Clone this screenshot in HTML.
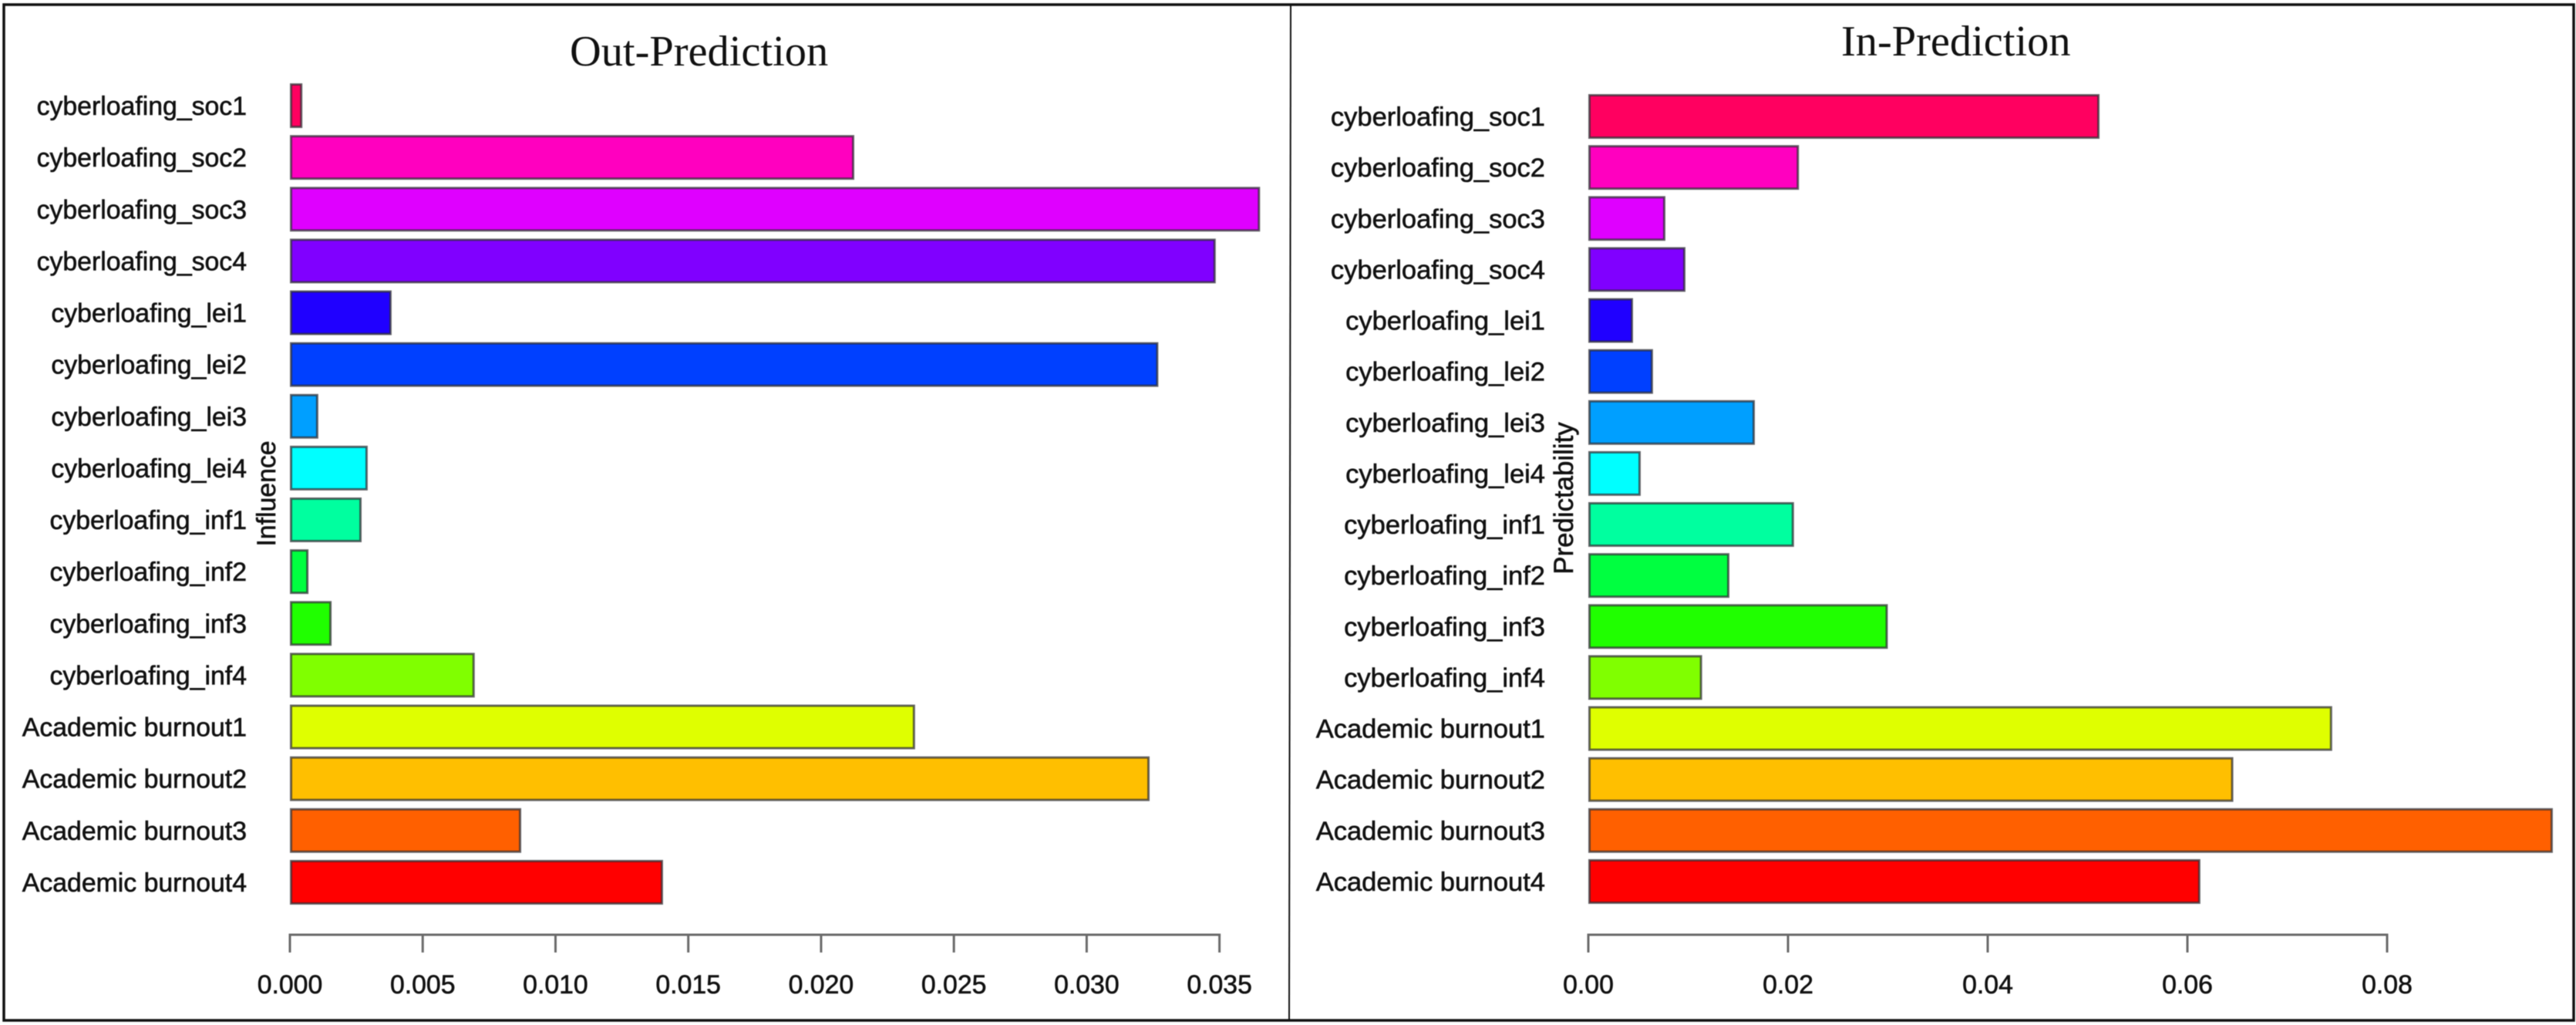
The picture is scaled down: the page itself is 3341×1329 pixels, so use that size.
<!DOCTYPE html>
<html lang="en">
<head>
<meta charset="utf-8">
<title>Out-Prediction and In-Prediction</title>
<style>
  html, body { margin: 0; padding: 0; background: #fff; }
  body { width: 3341px; height: 1329px; overflow: hidden; }
  svg { display: block; filter: blur(0.6px); }
  text { fill: #000; font-family: "Liberation Sans", sans-serif; }
  .title { font-family: "Liberation Serif", serif; font-size: 56.4px; fill: #111; }
  .cat, .tick, .ylab { font-size: 33.8px; fill: #111; stroke: #111; stroke-width: 0.6px; }
</style>
</head>
<body>
<svg id="figure" xmlns="http://www.w3.org/2000/svg" width="3341" height="1329" viewBox="0 0 3341 1329">
  <rect x="0" y="0" width="3341" height="1329" fill="#fff"/>
  <rect x="5" y="6" width="3333" height="1317" fill="none" stroke="#111" stroke-width="3.5"/>
  <line x1="1674" y1="6" x2="1672" y2="1322" stroke="#111" stroke-width="2"/>
  <g id="out-panel">
    <text class="title" x="739" y="85">Out-Prediction</text>
    <text class="ylab" transform="translate(357,640) rotate(-90)" text-anchor="middle">Influence</text>
  </g>
  <g id="in-panel">
    <text class="title" x="2388" y="72">In-Prediction</text>
    <text class="ylab" transform="translate(2040,646) rotate(-90)" text-anchor="middle" style="font-size:34.8px">Predictability</text>
  </g>
</svg>
<script>
const categories = [
  "cyberloafing_soc1", "cyberloafing_soc2", "cyberloafing_soc3", "cyberloafing_soc4",
  "cyberloafing_lei1", "cyberloafing_lei2", "cyberloafing_lei3", "cyberloafing_lei4",
  "cyberloafing_inf1", "cyberloafing_inf2", "cyberloafing_inf3", "cyberloafing_inf4",
  "Academic burnout1", "Academic burnout2", "Academic burnout3", "Academic burnout4"
];
const influenceValues = [
  0.00047, 0.02125, 0.03653, 0.03486,
  0.00383, 0.0327, 0.00107, 0.00293,
  0.0027, 0.0007, 0.00157, 0.00696,
  0.02354, 0.03237, 0.00871, 0.01405
];
const predictabilityValues = [
  0.0512, 0.0211, 0.00772, 0.00973,
  0.00448, 0.00648, 0.01668, 0.00525,
  0.0206, 0.01413, 0.030, 0.0114,
  0.0745, 0.0646, 0.0966, 0.0613
];
const influenceTicks = ["0.000", "0.005", "0.010", "0.015", "0.020", "0.025", "0.030", "0.035"];
const predictabilityTicks = ["0.00", "0.02", "0.04", "0.06", "0.08"];

const SVG_NS = "http://www.w3.org/2000/svg";

function make(tag, attrs, parent) {
  const el = document.createElementNS(SVG_NS, tag);
  for (const k in attrs) el.setAttribute(k, attrs[k]);
  parent.appendChild(el);
  return el;
}

function barColor(i, n) {
  return "hsl(" + ((n - 1 - i) * 360 / n) + ",100%,50%)";
}

function drawPanel(groupId, values, ticks, xZero, pxPerUnit, firstTop, pitch, labelEnd, labelSize) {
  const group = document.getElementById(groupId);
  const xScale = v => xZero + v * pxPerUnit;
  const yScale = i => firstTop + i * pitch;
  const barH = 58;
  const axisY = 1212;

  categories.forEach((name, i) => {
    const bar = make("rect", {
      x: xScale(0) + 1.5,
      y: yScale(i) + 1.5,
      width: Math.max(xScale(values[i]) - xScale(0) - 3, 1),
      height: barH - 3,
      fill: barColor(i, categories.length),
      stroke: "rgba(45,45,50,0.72)",
      "stroke-width": 3
    }, group);
    
    

    const label = make("text", {
      class: "cat",
      x: labelEnd,
      y: yScale(i) + barH / 2 + 12,
      "text-anchor": "end",
      style: "font-size:" + labelSize + "px"
    }, group);
    label.textContent = name;
    
    
  });

  const tickVals = ticks.map(parseFloat);
  const axis = make("line", {
    x1: xScale(tickVals[0]) - 1.5,
    x2: xScale(tickVals[tickVals.length - 1]) + 1.5,
    y1: axisY,
    y2: axisY,
    stroke: "#6a6a6a",
    "stroke-width": 3
  }, group);
  
  

  ticks.forEach((t, i) => {
    const x = xScale(tickVals[i]);
    const mark = make("line", {
      x1: x, x2: x, y1: axisY, y2: axisY + 23,
      stroke: "#6a6a6a", "stroke-width": 3
    }, group);
    
    

    const text = make("text", {
      class: "tick", x: x, y: 1288, "text-anchor": "middle"
    }, group);
    text.textContent = t;
    
    
  });
}

drawPanel("out-panel", influenceValues, influenceTicks, 376, 34446, 108, 67.13, 320, 33.8);
drawPanel("in-panel", predictabilityValues, predictabilityTicks, 2060, 12950, 122, 66.13, 2004, 34.5);
</script>
</body>
</html>
